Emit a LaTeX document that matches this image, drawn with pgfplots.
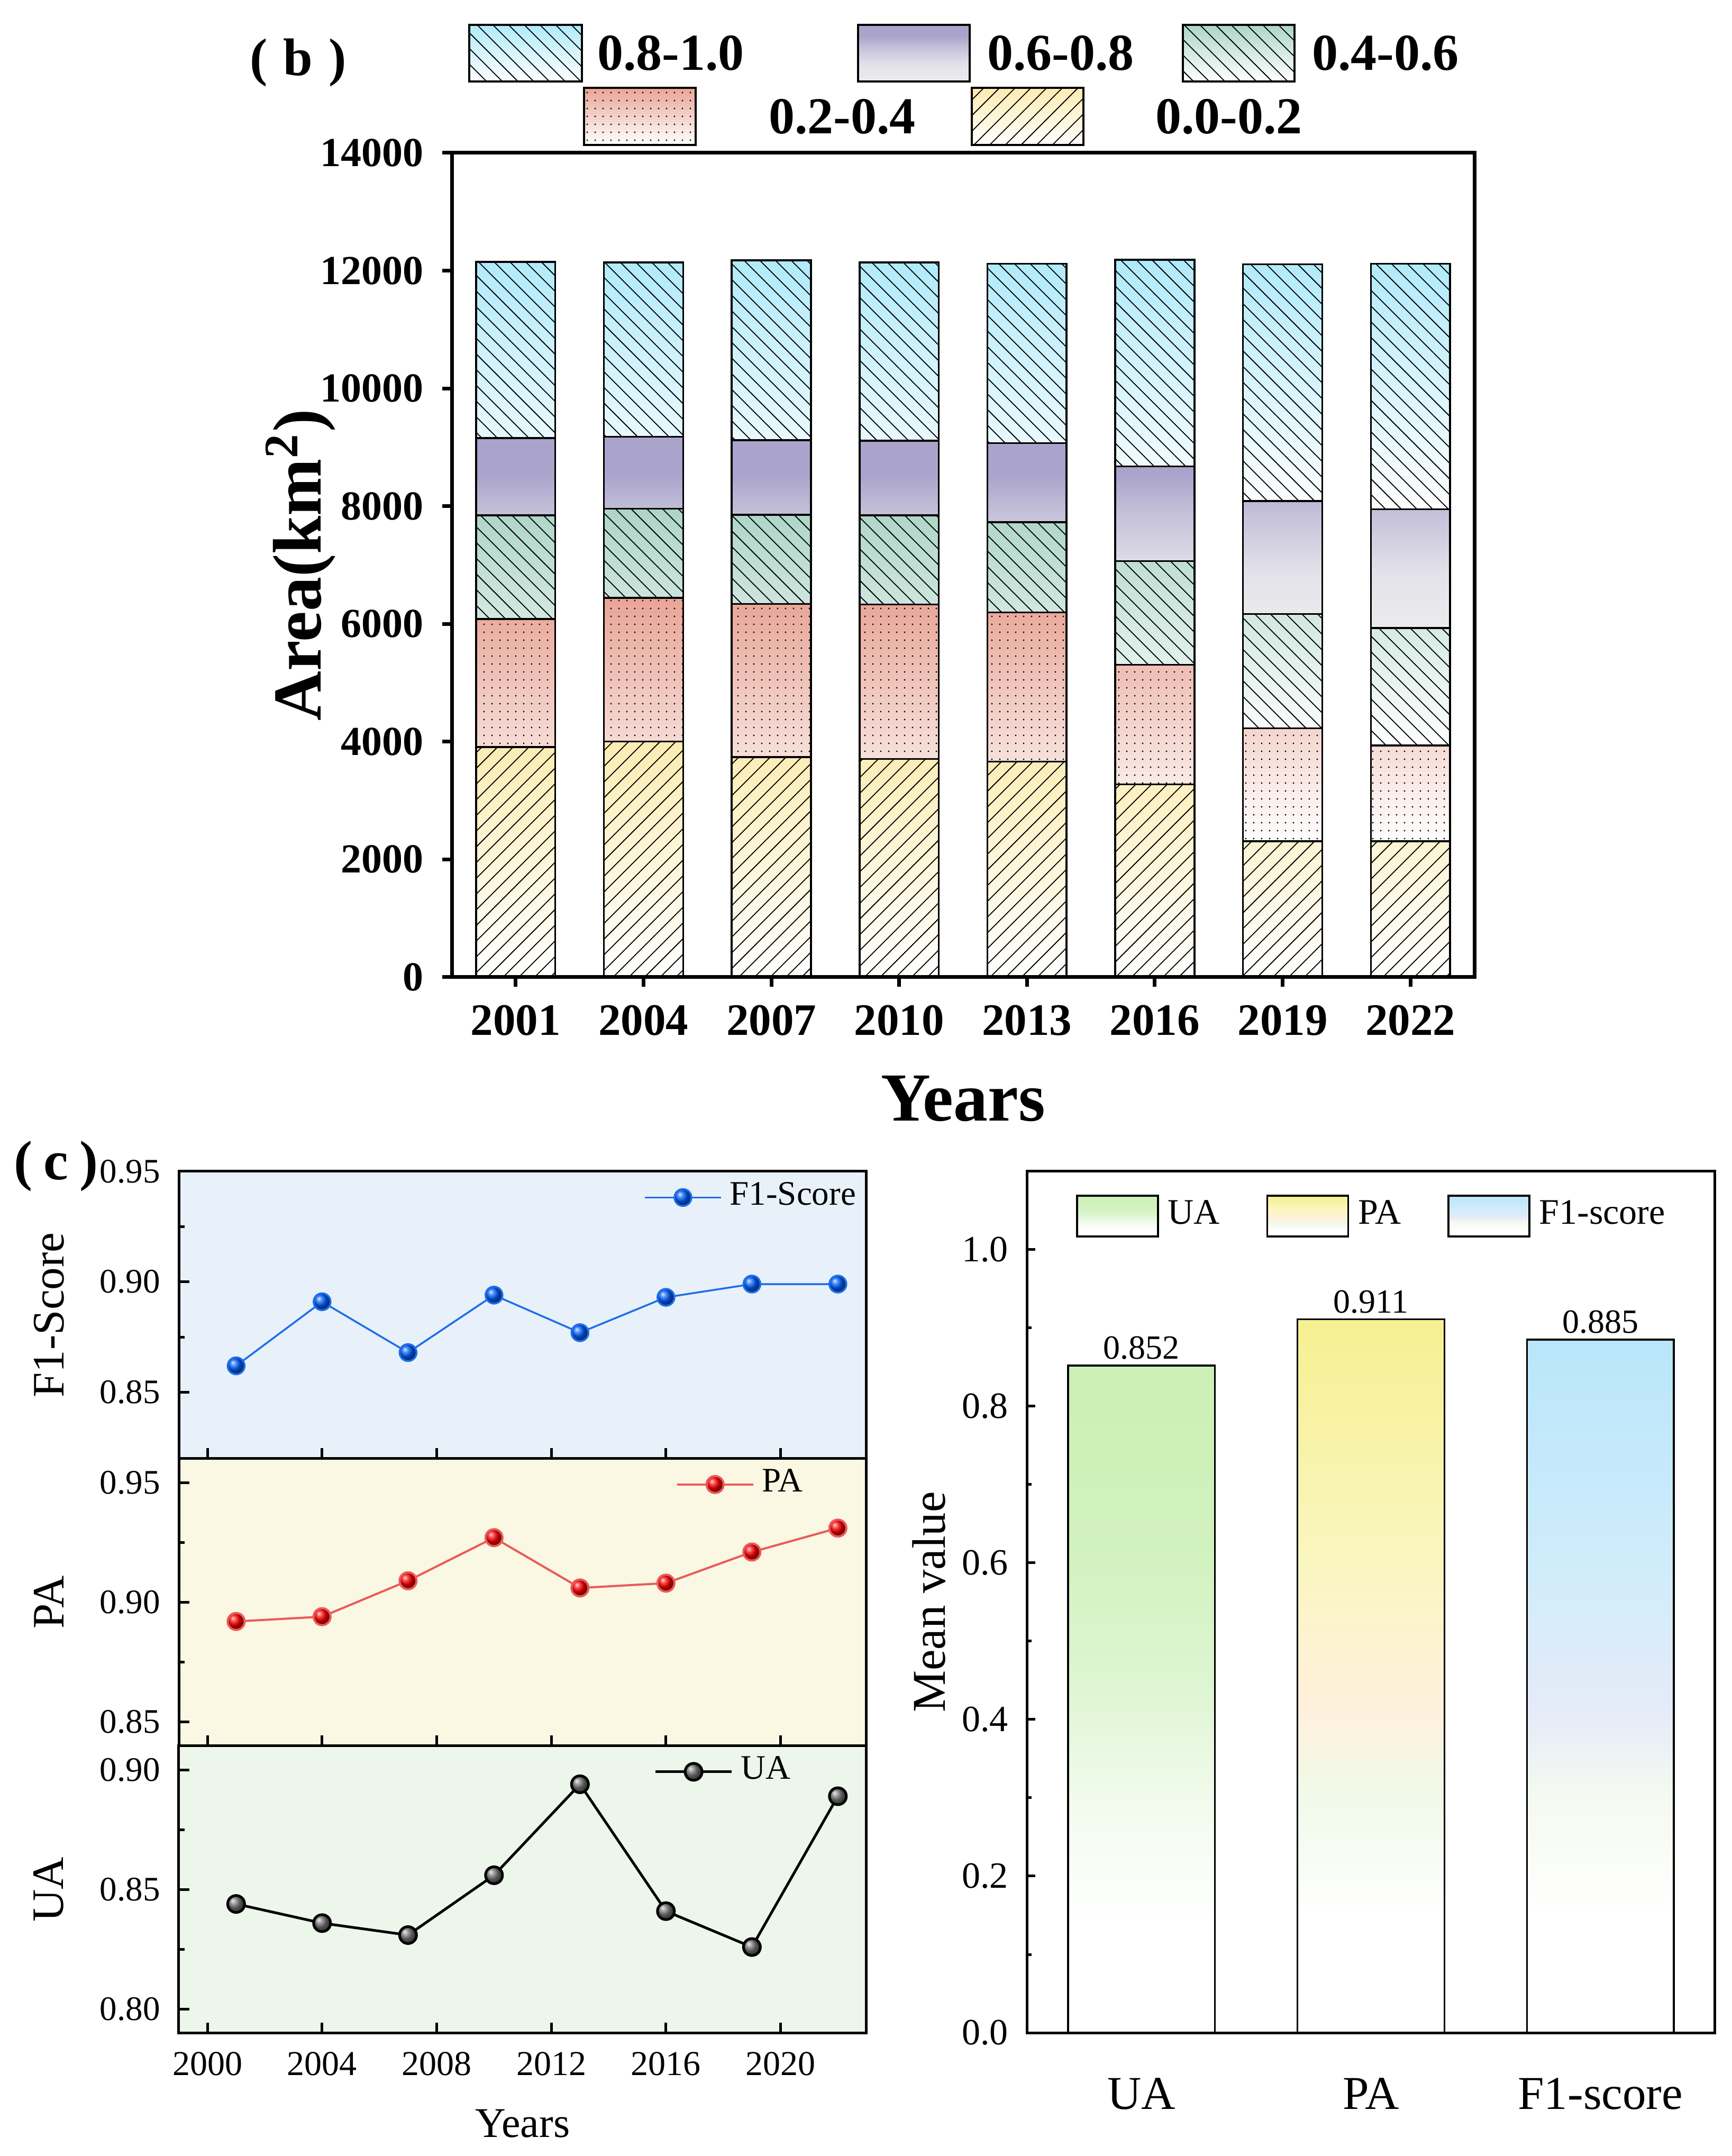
\documentclass[border=0pt]{standalone}
\usepackage{pgfplots}
\usepackage{pgfplotstable}
\pgfplotsset{compat=1.18}
\usepackage{fontspec}
\setmainfont{Liberation Serif}
\usetikzlibrary{patterns.meta}

\definecolor{cA}{RGB}{176,234,251}
\definecolor{cB}{RGB}{170,164,204}
\definecolor{cBb}{RGB}{236,236,238}
\definecolor{cC}{RGB}{172,213,198}
\definecolor{cD}{RGB}{232,165,150}
\definecolor{cE}{RGB}{252,236,178}
\definecolor{bgF}{RGB}{232,241,249}
\definecolor{bgP}{RGB}{250,247,227}
\definecolor{bgU}{RGB}{236,246,235}
\definecolor{f1line}{RGB}{30,110,235}
\definecolor{f1mark}{RGB}{0,95,255}
\definecolor{paline}{RGB}{235,90,90}
\definecolor{pamark}{RGB}{255,0,0}
\definecolor{uamark}{RGB}{120,120,120}
\definecolor{uaT}{RGB}{203,240,182}
\definecolor{uaM}{RGB}{222,245,210}
\definecolor{uaW}{RGB}{242,251,238}
\definecolor{paT}{RGB}{246,240,145}
\definecolor{paY}{RGB}{250,246,192}
\definecolor{paM}{RGB}{255,240,220}
\definecolor{paW}{RGB}{240,250,234}
\definecolor{f1T}{RGB}{185,230,250}
\definecolor{f1L}{RGB}{207,236,250}
\definecolor{f1M}{RGB}{230,235,248}
\definecolor{f1W}{RGB}{245,250,240}

\pgfdeclareverticalshading{uaS}{100bp}{color(0bp)=(white); color(25bp)=(white); color(33bp)=(white); color(42bp)=(uaW); color(51bp)=(uaM); color(62bp)=(uaT!90!white); color(75bp)=(uaT); color(100bp)=(uaT)}
\pgfdeclareverticalshading{paS}{100bp}{color(0bp)=(white); color(25bp)=(white); color(33bp)=(white); color(41bp)=(paW); color(48bp)=(paM); color(58bp)=(paY); color(75bp)=(paT); color(100bp)=(paT)}
\pgfdeclareverticalshading{f1S}{100bp}{color(0bp)=(white); color(25bp)=(white); color(33bp)=(white); color(42bp)=(f1W); color(48bp)=(f1M); color(59bp)=(f1L); color(75bp)=(f1T); color(100bp)=(f1T)}
\pgfdeclareverticalshading{bS}{100bp}{color(0bp)=(cBb); color(25bp)=(cBb); color(40bp)=(cBb!85!cB); color(55bp)=(cB!60!cBb); color(65bp)=(cB); color(75bp)=(cB); color(100bp)=(cB)}

\tikzset{
 shA/.style={top color=cA, middle color=cA!40!white, bottom color=white},
 shB/.style={shading=bS},
 shC/.style={top color=cC, middle color=cC!40!white, bottom color=white},
 shD/.style={top color=cD, middle color=cD!40!white, bottom color=white},
 shE/.style={top color=cE, middle color=cE!55!white, bottom color=white},
 paA/.style={pattern={Lines[angle=-45,distance=2.1pt,line width=0.18pt]},pattern color=black},
 paC/.style={pattern={Lines[angle=-45,distance=2.1pt,line width=0.18pt]},pattern color=black},
 paD/.style={pattern={Dots[distance=1.5pt,radius=0.16pt]},pattern color=black},
 paE/.style={pattern={Lines[angle=45,distance=2.1pt,line width=0.18pt]},pattern color=black},
}

% segment sizes (km^2), bottom (0.0-0.2) to top (0.8-1.0)
\pgfplotstableread{
x  s0   s1   s2   s3   s4
0  3907 2176 1760 1315 2990
1  4002 2441 1514 1220 2961
2  3737 2602 1513 1268 3056
3  3708 2621 1514 1267 3028
4  3661 2536 1532 1344 3046
5  3273 2034 1760 1608 3510
6  2308 1921 1939 1921 4021
7  2308 1628 1996 2015 4172
}\areatab

\pgfplotsset{
 barbase/.style={
  at={(85.4pt,222.8pt)}, anchor=south west, scale only axis,
  width=193.3pt, height=155.8pt,
  ybar stacked, bar width=0.62,
  xmin=-0.5, xmax=7.5, ymin=0, ymax=14000,
 },
 lpanel/.style={
  scale only axis, width=130pt, height=54.3pt, anchor=south west,
  xmin=1999, xmax=2023, xtick={2000,2004,...,2020}, minor x tick num=1,
  minor y tick num=1, scaled x ticks=false, scaled y ticks=false,
  tick align=inside, xtick pos=bottom, ytick pos=left,
  major tick length=2pt, minor tick length=1.1pt,
  axis line style={line width=0.5pt}, every tick/.style={black,line width=0.5pt},
  /pgf/number format/assume math mode=true,
  xticklabel style={/pgf/number format/1000 sep={}, font=\fontsize{6.6}{8}\selectfont},
  yticklabel style={/pgf/number format/.cd, fixed, fixed zerofill, precision=2, /tikz/.cd, font=\fontsize{6.5}{8}\selectfont},
  every axis y label/.style={at={(axis description cs:-0.189,0.5)}, anchor=center, rotate=90, font=\fontsize{8.5}{10}\selectfont},
  legend style={draw=none, fill=none, inner sep=0pt, font=\fontsize{6.5}{8}\selectfont, cells={anchor=west},
     nodes={inner sep=0.5pt},
     /tikz/every odd column/.append style={column sep=1pt}},
  legend image code/.code={\draw[mark repeat=2, mark phase=2, ##1] plot coordinates {(0pt,0pt) (7.2pt,0pt) (14.4pt,0pt)};},
 }
}

\begin{document}
\begin{tikzpicture}
\useasboundingbox (0pt,0pt) rectangle (327.3pt,407.5pt);

% ---------------- (b) stacked bars: colour gradients ----------------
\begin{axis}[barbase,
 axis on top,
 xtick={0,...,7}, xticklabels={2001,2004,2007,2010,2013,2016,2019,2022},
 ytick={0,2000,4000,6000,8000,10000,12000,14000},
 scaled y ticks=false,
 /pgf/number format/1000 sep={}, /pgf/number format/assume math mode=true,
 tick align=outside, tick pos=left, major tick length=1.8pt,
 axis line style={line width=0.7pt}, every tick/.style={black, line width=0.7pt},
 xticklabel style={font=\bfseries\fontsize{8.5}{10}\selectfont},
 yticklabel style={font=\bfseries\fontsize{7.8}{10}\selectfont},
 xlabel={Years}, ylabel={Area(km\textsuperscript{2})},
 every axis x label/.style={at={(axis description cs:0.5,-0.1476)}, anchor=center, font=\bfseries\fontsize{13}{15}\selectfont},
 every axis y label/.style={at={(axis description cs:-0.148,0.5)}, anchor=center, rotate=90, font=\bfseries\fontsize{13}{15}\selectfont},
]
\addplot[shE, draw=black, line width=0.35pt] table[x=x,y=s0] {\areatab};
\addplot[shD, draw=black, line width=0.35pt] table[x=x,y=s1] {\areatab};
\addplot[shC, draw=black, line width=0.35pt] table[x=x,y=s2] {\areatab};
\addplot[shB, draw=black, line width=0.35pt] table[x=x,y=s3] {\areatab};
\addplot[shA, draw=black, line width=0.35pt] table[x=x,y=s4] {\areatab};
\end{axis}
% ---------------- (b) stacked bars: hatch patterns on top ----------------
\begin{axis}[barbase, hide axis]
\addplot[paE, draw=none] table[x=x,y=s0] {\areatab};
\addplot[paD, draw=none] table[x=x,y=s1] {\areatab};
\addplot[paC, draw=none] table[x=x,y=s2] {\areatab};
\addplot[draw=none, fill=none] table[x=x,y=s3] {\areatab};
\addplot[paA, draw=none] table[x=x,y=s4] {\areatab};
\end{axis}

% legend of (b)
\node[font=\bfseries\fontsize{10}{12}\selectfont, inner sep=0pt] at (56.35pt,395.7pt) {(\hspace{0.3em}b\hspace{0.3em})};
\draw[shA, draw=black, line width=0.35pt] (88.7pt,392.1pt) rectangle (110.0pt,402.8pt);
\fill[paA] (88.7pt,392.1pt) rectangle (110.0pt,402.8pt);
\node[anchor=west, inner sep=0pt, font=\bfseries\fontsize{9.8}{12}\selectfont] at (112.7pt,397.4pt) {0.8-1.0};
\draw[shB, draw=black, line width=0.35pt] (162.2pt,392.1pt) rectangle (183.3pt,402.8pt);
\node[anchor=west, inner sep=0pt, font=\bfseries\fontsize{9.8}{12}\selectfont] at (186.4pt,397.4pt) {0.6-0.8};
\draw[shC, draw=black, line width=0.35pt] (223.6pt,392.1pt) rectangle (244.7pt,402.8pt);
\fill[paC] (223.6pt,392.1pt) rectangle (244.7pt,402.8pt);
\node[anchor=west, inner sep=0pt, font=\bfseries\fontsize{9.8}{12}\selectfont] at (247.8pt,397.4pt) {0.4-0.6};
\draw[shD, draw=black, line width=0.35pt] (110.4pt,380.1pt) rectangle (131.5pt,390.9pt);
\fill[paD] (110.4pt,380.1pt) rectangle (131.5pt,390.9pt);
\node[anchor=west, inner sep=0pt, font=\bfseries\fontsize{9.8}{12}\selectfont] at (145.1pt,385.4pt) {0.2-0.4};
\draw[shE, draw=black, line width=0.35pt] (183.7pt,380.1pt) rectangle (204.8pt,390.9pt);
\fill[paE] (183.7pt,380.1pt) rectangle (204.8pt,390.9pt);
\node[anchor=west, inner sep=0pt, font=\bfseries\fontsize{9.8}{12}\selectfont] at (218.2pt,385.4pt) {0.0-0.2};

% ---------------- (c) line panels ----------------
\node[font=\bfseries\fontsize{10.5}{12}\selectfont, inner sep=0pt] at (10.6pt,187.1pt) {(\hspace{0.2em}c\hspace{0.2em})};

\begin{axis}[lpanel, at={(33.8pt,131.8pt)}, ymin=0.82, ymax=0.95, ytick={0.85,0.90,0.95},
  axis background/.style={fill=bgF}, xticklabels={}, ylabel={F1-Score},
  legend style={at={(axis description cs:0.99,0.909)}, anchor=east}]
\addplot[color=f1line, line width=0.35pt, mark=ball, mark size=1.6pt, mark options={ball color=f1mark}]
 coordinates {(2001,0.862) (2004,0.891) (2007,0.868) (2010,0.894) (2013,0.877) (2016,0.893) (2019,0.899) (2022,0.899)};
\legend{F1-Score}
\end{axis}

\begin{axis}[lpanel, at={(33.8pt,77.5pt)}, ymin=0.84, ymax=0.96, ytick={0.85,0.90,0.95},
  axis background/.style={fill=bgP}, xticklabels={}, ylabel={PA},
  legend style={at={(axis description cs:0.913,0.91)}, anchor=east}]
\addplot[color=paline, line width=0.4pt, mark=ball, mark size=1.6pt, mark options={ball color=pamark}]
 coordinates {(2001,0.892) (2004,0.894) (2007,0.909) (2010,0.927) (2013,0.906) (2016,0.908) (2019,0.921) (2022,0.931)};
\legend{PA}
\end{axis}

\begin{axis}[lpanel, at={(33.8pt,23.2pt)}, ymin=0.79, ymax=0.91, ytick={0.80,0.85,0.90},
  axis background/.style={fill=bgU}, ylabel={UA}, xlabel={Years},
  every axis x label/.style={at={(axis description cs:0.5,-0.315)}, anchor=center, font=\fontsize{8}{10}\selectfont},
  legend style={at={(axis description cs:0.895,0.91)}, anchor=east}]
\addplot[color=black, line width=0.5pt, mark=ball, mark size=1.6pt, mark options={ball color=uamark}]
 coordinates {(2001,0.844) (2004,0.836) (2007,0.831) (2010,0.856) (2013,0.894) (2016,0.841) (2019,0.826) (2022,0.889)};
\legend{UA}
\end{axis}

% ---------------- mean value bars ----------------
\begin{axis}[
 at={(194.1pt,23.3pt)}, anchor=south west, scale only axis,
 width=130.1pt, height=162.8pt,
 ybar, bar width=0.64, bar shift=0pt,
 xmin=-0.5, xmax=2.5, ymin=0, ymax=1.1,
 xtick={0,1,2}, xticklabels={UA,PA,F1-score},
 ytick={0,0.2,0.4,0.6,0.8,1.0}, minor y tick num=1,
 scaled y ticks=false,
 tick align=inside, ytick pos=left, xtick pos=bottom,
 x tick style={draw=none},
 major tick length=1.6pt, minor tick length=0.9pt,
 axis line style={line width=0.5pt}, every tick/.style={black, line width=0.5pt},
 /pgf/number format/assume math mode=true,
 yticklabel style={/pgf/number format/.cd, fixed, fixed zerofill, precision=1, /tikz/.cd, font=\fontsize{7}{8}\selectfont},
 xticklabel style={font=\fontsize{8.9}{10}\selectfont, yshift=-5pt},
 ylabel={Mean value},
 every axis y label/.style={at={(axis description cs:-0.142,0.5)}, anchor=center, rotate=90, font=\fontsize{8.9}{10}\selectfont},
 nodes near coords,
 every node near coord/.append style={font=\fontsize{6.4}{7}\selectfont, inner sep=1pt, /pgf/number format/.cd, fixed, fixed zerofill, precision=3, assume math mode=true},
 legend columns=3,
 legend style={draw=none, fill=none, inner sep=0pt, at={(axis description cs:0.5015,0.948)}, anchor=center,
   font=\fontsize{6.8}{8}\selectfont, cells={anchor=west}, nodes={inner sep=0.5pt},
   /tikz/every odd column/.append style={column sep=1.2pt},
   /tikz/every even column/.append style={column sep=8.3pt}},
 legend image code/.code={\draw[#1, draw=black, line width=0.35pt] (0pt,-3.85pt) rectangle (15.3pt,3.85pt);},
]
\addplot[draw=black, line width=0.35pt, shading=uaS] coordinates {(0,0.852)};
\addplot[draw=black, line width=0.35pt, shading=paS] coordinates {(1,0.911)};
\addplot[draw=black, line width=0.35pt, shading=f1S] coordinates {(2,0.885)};
\legend{UA,PA,F1-score}
\end{axis}
\end{tikzpicture}
\end{document}
